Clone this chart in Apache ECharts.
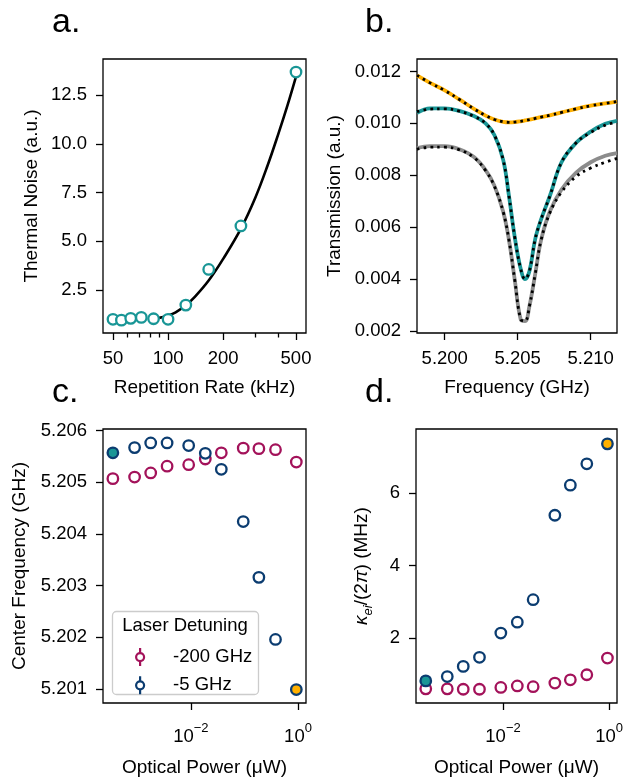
<!DOCTYPE html>
<html>
<head>
<meta charset="utf-8">
<script src="https://cdn.jsdelivr.net/npm/echarts@6/dist/echarts.min.js"></script>
<style>
  html, body { margin: 0; padding: 0; background: #fff; }
  #chart { width: 626px; height: 779px; }
</style>
</head>
<body>
<div id="chart"></div>
<script>
// panel a: thermal noise vs repetition rate
var repRate = [50, 55.6, 62.5, 71.4, 83.3, 100, 125, 166.7, 250, 500];
var noise = [1.0, 0.96, 1.05, 1.1, 1.03, 1.0, 1.73, 3.56, 5.79, 13.68];
var fitRate = [87, 100, 110, 125, 140, 167, 200, 250, 300, 350, 400, 450, 500];
var fitNoise = [1.05, 1.2, 1.36, 1.72, 2.15, 3.0, 4.1, 5.65, 7.25, 8.9, 10.5, 12.0, 13.45];

// panel b: transmission spectra (GHz)
var bFreq = [5.1981, 5.1990, 5.2000, 5.2010, 5.2020, 5.2028, 5.2034, 5.2040, 5.2044, 5.2048, 5.2052,
             5.2055, 5.2058, 5.2062, 5.2066, 5.2072, 5.2080, 5.2090, 5.2100, 5.2110, 5.2118];
var bOrange = [0.01185, 0.01156, 0.01127, 0.01092, 0.01056, 0.01030, 0.01015, 0.01006, 0.01004, 0.01005, 0.01008,
               0.01011, 0.01014, 0.01019, 0.01024, 0.01031, 0.01042, 0.01056, 0.01068, 0.01077, 0.01084];
var bTeal = [0.01040, 0.01058, 0.01058, 0.01048, 0.01028, 0.01000, 0.00955, 0.00860, 0.00720, 0.00560, 0.00440,
             0.00400, 0.00430, 0.00555, 0.00630, 0.00720, 0.00850, 0.00925, 0.00968, 0.00998, 0.01010];
var bGray = [0.00905, 0.00912, 0.00912, 0.00900, 0.00870, 0.00820, 0.00760, 0.00660, 0.00550, 0.00395, 0.00245,
             0.00238, 0.00295, 0.00420, 0.00550, 0.00660, 0.00745, 0.00810, 0.00850, 0.00875, 0.00885];
var bOrangeFit = bOrange.slice();
var bTealFit = [0.01045, 0.01055, 0.01056, 0.01047, 0.01027, 0.01000, 0.00955, 0.00860, 0.00720, 0.00560, 0.00440,
                0.00400, 0.00430, 0.00555, 0.00630, 0.00720, 0.00850, 0.00925, 0.00965, 0.00993, 0.01005];
var bGrayFit = [0.00900, 0.00908, 0.00908, 0.00898, 0.00868, 0.00818, 0.00758, 0.00660, 0.00550, 0.00395, 0.00245,
                0.00238, 0.00295, 0.00420, 0.00550, 0.00655, 0.00735, 0.00795, 0.00828, 0.00850, 0.00865];

// panels c, d: vs optical power (uW)
var power = [3.5e-4, 8.9e-4, 1.78e-3, 3.6e-3, 9.1e-3, 1.86e-2, 3.7e-2, 9.5e-2, 0.186, 0.38, 0.93];
var centerFar = [5.20507, 5.20510, 5.20518, 5.20531, 5.20534, 5.20545, 5.20557, 5.20566, 5.20565, 5.20563, 5.20539];
var centerNear = [5.20557, 5.20567, 5.20576, 5.20576, 5.20571, 5.20556, 5.20525, 5.20424, 5.20316, 5.20196, 5.20099];
var kappaFar = [0.60, 0.60, 0.59, 0.59, 0.64, 0.68, 0.66, 0.76, 0.85, 0.99, 1.45];
var kappaNear = [0.82, 0.94, 1.22, 1.47, 2.14, 2.44, 3.06, 5.39, 6.22, 6.81, 7.36];

var FONT = 'Liberation Sans, Arial, sans-serif';
var FS = 18.5;
var TEAL = '#199696', ORANGE = '#ffb000', GRAY = '#8c8c8c', NAVY = '#0b3c70', MAGENTA = '#a3125a';
var ERR_ICON = 'path://M4,0L4,5M4,13L4,18M8,9A4,4,0,1,1,0,9A4,4,0,1,1,8,9Z';

function pairs(xs, ys) {
  return xs.map(function (x, i) { return [x, ys[i]]; });
}

function axis(o) {
  var a = {
    gridIndex: 0,
    nameLocation: 'middle',
    nameTextStyle: { fontFamily: FONT, fontSize: 19, color: '#000' },
    axisLine: { show: false },
    axisTick: { show: true, length: 7, lineStyle: { color: '#000', width: 1.3 } },
    axisLabel: { fontFamily: FONT, fontSize: FS, color: '#000', margin: 16 },
    splitLine: { show: false }
  };
  for (var k in o) {
    if (typeof o[k] === 'object' && a[k] && !Array.isArray(o[k])) {
      for (var j in o[k]) a[k][j] = o[k][j];
    } else {
      a[k] = o[k];
    }
  }
  return a;
}

var powRich = {
  b: { fontFamily: FONT, fontSize: FS, color: '#000', lineHeight: 30 },
  sup: { fontFamily: FONT, fontSize: 13, color: '#000', lineHeight: 14, verticalAlign: 'top' }
};
function powLabel(v) {
  var e = Math.round(Math.log10(v));
  return '{b|10}{sup|' + (e < 0 ? '\u2212' + (-e) : e) + '}';
}

function scatter(name, xi, yi, xs, ys, color, fills) {
  var data = pairs(xs, ys).map(function (p, i) {
    var d = { value: p };
    if (fills && fills[i]) d.itemStyle = { color: fills[i] };
    return d;
  });
  return {
    name: name, type: 'scatter', xAxisIndex: xi, yAxisIndex: yi,
    symbol: 'circle', symbolSize: 10.5,
    itemStyle: { color: '#fff', borderColor: color, borderWidth: 2.3, opacity: 1 },
    data: data, z: 4
  };
}

function line(xi, yi, xs, ys, color, width, dash, z) {
  return {
    type: 'line', xAxisIndex: xi, yAxisIndex: yi, showSymbol: false, smooth: 0.4,
    lineStyle: { color: color, width: width, type: dash || 'solid', cap: 'butt' },
    data: pairs(xs, ys), z: z || 2, silent: true
  };
}

var nearFills = [TEAL, null, null, null, null, null, null, null, null, null, ORANGE];

var chart = echarts.init(document.getElementById('chart'), null, { renderer: 'canvas' });
var option = {
  backgroundColor: '#fff',
  animation: false,
  grid: [
    { left: 103, top: 59, width: 203, height: 274, show: true, borderColor: '#000', borderWidth: 1.3 },
    { left: 417, top: 59, width: 200, height: 274, show: true, borderColor: '#000', borderWidth: 1.3 },
    { left: 103, top: 429, width: 203, height: 274, show: true, borderColor: '#000', borderWidth: 1.3 },
    { left: 416, top: 429, width: 203, height: 274, show: true, borderColor: '#000', borderWidth: 1.3 }
  ],
  xAxis: [
    axis({ type: 'log', gridIndex: 0, position: 'bottom', min: 44.1, max: 567, name: 'Repetition Rate (kHz)', nameGap: 45,
      axisTick: { customValues: [50, 100, 200, 500] },
      axisLabel: { customValues: [50, 100, 200, 500], margin: 16, formatter: function (v) { return String(Math.round(v)); } } }),
    axis({ type: 'log', gridIndex: 0, position: 'bottom', min: 44.1, max: 567,
      axisTick: { customValues: [60, 70, 80, 90, 300, 400], length: 4.5 },
      axisLabel: { show: false } }),
    axis({ type: 'value', gridIndex: 1, min: 5.1981, max: 5.2118, name: 'Frequency (GHz)', nameGap: 45,
      axisTick: { customValues: [5.200, 5.205, 5.210] },
      axisLabel: { customValues: [5.200, 5.205, 5.210], margin: 16, formatter: function (v) { return v.toFixed(3); } } }),
    axis({ type: 'log', gridIndex: 2, min: 2.29e-4, max: 1.41, name: 'Optical Power (\u03bcW)', nameGap: 55,
      axisTick: { customValues: [0.01, 1] },
      axisLabel: { customValues: [0.01, 1], margin: 19, formatter: powLabel, rich: powRich } }),
    axis({ type: 'log', gridIndex: 3, min: 2.29e-4, max: 1.41, name: 'Optical Power (\u03bcW)', nameGap: 55,
      axisTick: { customValues: [0.01, 1] },
      axisLabel: { customValues: [0.01, 1], margin: 19, formatter: powLabel, rich: powRich } })
  ],
  yAxis: [
    axis({ type: 'value', gridIndex: 0, min: 0.3, max: 14.35, name: 'Thermal Noise (a.u.)', nameGap: 62,
      axisTick: { customValues: [2.5, 5, 7.5, 10, 12.5] },
      axisLabel: { customValues: [2.5, 5, 7.5, 10, 12.5], formatter: function (v) { return v.toFixed(1); } } }),
    axis({ type: 'value', gridIndex: 1, min: 0.00192, max: 0.01248, name: 'Transmission (a.u.)', nameGap: 73,
      axisTick: { customValues: [0.002, 0.004, 0.006, 0.008, 0.010, 0.012] },
      axisLabel: { customValues: [0.002, 0.004, 0.006, 0.008, 0.010, 0.012], formatter: function (v) { return v.toFixed(3); } } }),
    axis({ type: 'value', gridIndex: 2, min: 5.20073, max: 5.20603, name: 'Center Frequency (GHz)', nameGap: 74,
      axisTick: { customValues: [5.201, 5.202, 5.203, 5.204, 5.205, 5.206] },
      axisLabel: { customValues: [5.201, 5.202, 5.203, 5.204, 5.205, 5.206], formatter: function (v) { return v.toFixed(3); } } }),
    axis({ type: 'value', gridIndex: 3, min: 0.21, max: 7.77,
      name: '{i|\u03ba}{sub|ei}/(2{i|\u03c0}) (MHz)', nameGap: 41,
      nameTextStyle: { lineHeight: 26, rich: {
        i: { fontFamily: FONT, fontSize: 19, fontStyle: 'italic', color: '#000', lineHeight: 26 },
        sub: { fontFamily: FONT, fontSize: 13, fontStyle: 'italic', color: '#000', lineHeight: 14, verticalAlign: 'bottom' }
      } },
      axisTick: { customValues: [2, 4, 6] },
      axisLabel: { customValues: [2, 4, 6] } })
  ],
  legend: {
    data: [{ name: '-200 GHz', icon: ERR_ICON }, { name: '-5 GHz', icon: ERR_ICON }],
    orient: 'vertical', left: 130, top: 642, itemWidth: 8, itemHeight: 18, itemGap: 8,
    itemStyle: { borderWidth: 2.2 },
    textStyle: { fontFamily: FONT, fontSize: FS, color: '#000', padding: [0, 0, 0, 24] },
    selectedMode: false, z: 8
  },
  graphic: [
    { type: 'text', left: 52, top: 6, style: { text: 'a.', font: '34px ' + FONT, fill: '#000' } },
    { type: 'text', left: 365, top: 6, style: { text: 'b.', font: '34px ' + FONT, fill: '#000' } },
    { type: 'text', left: 52, top: 376, style: { text: 'c.', font: '34px ' + FONT, fill: '#000' } },
    { type: 'text', left: 365, top: 376, style: { text: 'd.', font: '34px ' + FONT, fill: '#000' } },
    { type: 'rect', z: 6, shape: { x: 112.5, y: 611.5, width: 146, height: 83, r: 4 },
      style: { fill: 'rgba(255,255,255,0.85)', stroke: '#cccccc', lineWidth: 1.3 } },
    { type: 'text', z: 7, x: 185, y: 626,
      style: { text: 'Laser Detuning', font: FS + 'px ' + FONT, fill: '#000', textAlign: 'center', textVerticalAlign: 'middle' } }
  ],
  series: [
    line(0, 0, fitRate, fitNoise, '#000', 2.6, 'solid', 2),
    scatter('noise', 0, 0, repRate, noise, TEAL),

    line(2, 1, bFreq, bOrange, ORANGE, 3.8, 'solid', 2),
    line(2, 1, bFreq, bTeal, TEAL, 3.8, 'solid', 2),
    line(2, 1, bFreq, bGray, GRAY, 3.8, 'solid', 2),
    line(2, 1, bFreq, bOrangeFit, '#000', 2.8, [2.6, 4.2], 3),
    line(2, 1, bFreq, bTealFit, '#000', 2.8, [2.6, 4.2], 3),
    line(2, 1, bFreq, bGrayFit, '#000', 2.8, [2.6, 4.2], 3),

    scatter('-200 GHz', 3, 2, power, centerFar, MAGENTA),
    scatter('-5 GHz', 3, 2, power, centerNear, NAVY, nearFills),
    scatter('-200 GHz', 4, 3, power, kappaFar, MAGENTA),
    scatter('-5 GHz', 4, 3, power, kappaNear, NAVY, nearFills)
  ]
};
chart.setOption(option);
</script>
</body>
</html>
